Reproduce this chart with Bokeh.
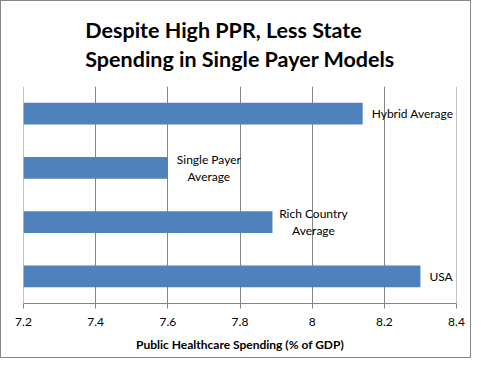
from bokeh.plotting import figure
from bokeh.models import FactorRange, FixedTicker, CustomJSTickFormatter, ColumnDataSource, Range1d, Span
from bokeh.core.properties import value
from bokeh.embed import file_html
from bokeh.resources import INLINE

CATEGORIES = ["Hybrid Average", "Single Payer Average", "Rich Country Average", "USA"]
LABELS = ["Hybrid Average", "Single Payer\nAverage", "Rich Country\nAverage", "USA"]
SPENDING = [8.14, 7.60, 7.89, 8.30]
X_TICKS = [7.2, 7.4, 7.6, 7.8, 8.0, 8.2, 8.4]
TITLE = "Despite High PPR, Less State\nSpending in Single Payer Models"
X_LABEL = "Public Healthcare Spending (% of GDP)"

FONT = "Lato"
BLUE = "#4F81BD"
GRID = "#868686"

p = figure(width=471, height=358, output_backend="svg", toolbar_location=None,
           y_range=FactorRange(*reversed(CATEGORIES), range_padding=0),
           x_range=Range1d(X_TICKS[0], X_TICKS[-1]),
           min_border_left=22, min_border_right=16, min_border_bottom=56, min_border_top=0)
p.styles = {"border": "1px solid #868686"}

p.title.text = TITLE
p.title.align = "center"
p.title.offset = 4
p.title.text_font = FONT
p.title.text_font_size = "21.5px"
p.title.text_font_style = "bold"
p.title.text_line_height = 1.12
p.title.text_color = "black"
p.title.standoff = 28

src = ColumnDataSource(dict(cat=CATEGORIES, val=SPENDING, lab=LABELS))
p.hbar(y="cat", right="val", left=X_TICKS[0], height=0.4, source=src,
       fill_color=BLUE, line_color=None)

single = [i for i, l in enumerate(LABELS) if "\n" not in l]
multi = [i for i, l in enumerate(LABELS) if "\n" in l]
s1 = ColumnDataSource(dict(cat=[CATEGORIES[i] for i in single], val=[SPENDING[i] for i in single],
                           lab=[LABELS[i] for i in single]))
s2 = ColumnDataSource(dict(cat=[CATEGORIES[i] for i in multi], val=[SPENDING[i] for i in multi],
                           lab=[LABELS[i] for i in multi]))
p.text(x="val", y="cat", text="lab", source=s1, x_offset=9, text_align="left",
       text_baseline="middle", text_font=value(FONT), text_font_size="12px", text_color="black")
p.text(x="val", y="cat", text="lab", source=s2, x_offset=41, text_align="center",
       text_baseline="middle", text_font=value(FONT), text_font_size="12px", text_color="black",
       text_line_height=1.1)

for edge in (X_TICKS[0], X_TICKS[-1]):
    p.add_layout(Span(location=edge, dimension="height", line_color=GRID, line_width=1,
                      level="underlay"))

p.yaxis.visible = False
p.ygrid.visible = False
p.xgrid.grid_line_color = GRID
p.xgrid.grid_line_width = 1
p.xaxis.ticker = FixedTicker(ticks=X_TICKS)
p.xaxis.formatter = CustomJSTickFormatter(code="return String(Math.round(tick*10)/10);")
p.xaxis.axis_line_color = GRID
p.xaxis.major_tick_line_color = GRID
p.xaxis.major_tick_out = 5
p.xaxis.major_tick_in = 0
p.xaxis.minor_tick_line_color = None
p.xaxis.major_label_text_font = FONT
p.xaxis.major_label_text_font_size = "12px"
p.xaxis.major_label_text_color = "black"
p.xaxis.major_label_standoff = 9
p.xaxis.axis_label = X_LABEL
p.xaxis.axis_label_text_font = FONT
p.xaxis.axis_label_text_font_size = "12px"
p.xaxis.axis_label_text_font_style = "bold"
p.xaxis.axis_label_text_color = "black"
p.xaxis.axis_label_standoff = 8
p.outline_line_color = None

open("out.html", "w").write(file_html(p, INLINE))
